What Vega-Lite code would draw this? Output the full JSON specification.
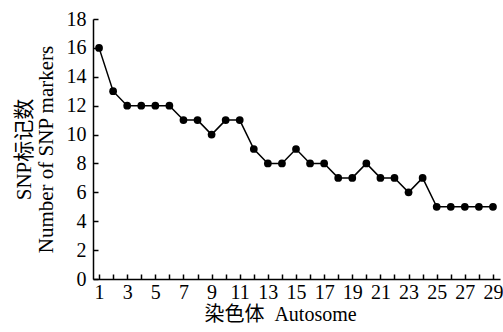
{
  "$schema": "https://vega.github.io/schema/vega-lite/v6.json",
  "autosize": "none",
  "width": 407,
  "height": 260,
  "padding": {"left": 93, "top": 19, "right": 3, "bottom": 53},
  "background": "white",
  "config": {
    "view": {"stroke": null},
    "font": "Liberation Serif",
    "axis": {
      "labelFont": "Liberation Serif",
      "labelFontSize": 20,
      "labelColor": "black",
      "titleFont": "Liberation Serif, Noto Sans CJK SC",
      "titleFontSize": 20,
      "titleFontWeight": "normal",
      "titleColor": "black",
      "domainColor": "black",
      "domainWidth": 1.5,
      "tickColor": "black",
      "tickWidth": 1.5,
      "grid": false
    }
  },
  "data": {
    "values": [
      {"chr": 1, "n": 16}, {"chr": 2, "n": 13}, {"chr": 3, "n": 12}, {"chr": 4, "n": 12},
      {"chr": 5, "n": 12}, {"chr": 6, "n": 12}, {"chr": 7, "n": 11}, {"chr": 8, "n": 11},
      {"chr": 9, "n": 10}, {"chr": 10, "n": 11}, {"chr": 11, "n": 11}, {"chr": 12, "n": 9},
      {"chr": 13, "n": 8}, {"chr": 14, "n": 8}, {"chr": 15, "n": 9}, {"chr": 16, "n": 8},
      {"chr": 17, "n": 8}, {"chr": 18, "n": 7}, {"chr": 19, "n": 7}, {"chr": 20, "n": 8},
      {"chr": 21, "n": 7}, {"chr": 22, "n": 7}, {"chr": 23, "n": 6}, {"chr": 24, "n": 7},
      {"chr": 25, "n": 5}, {"chr": 26, "n": 5}, {"chr": 27, "n": 5}, {"chr": 28, "n": 5},
      {"chr": 29, "n": 5}
    ]
  },
  "encoding": {
    "x": {
      "field": "chr", "type": "quantitative",
      "scale": {"domain": [0.57, 29.5], "nice": false, "zero": false},
      "axis": {
        "values": [1,2,3,4,5,6,7,8,9,10,11,12,13,14,15,16,17,18,19,20,21,22,23,24,25,26,27,28,29],
        "labelExpr": "datum.value % 2 == 1 ? datum.label : ''",
        "labelOverlap": false,
        "tickSize": -5,
        "labelPadding": 8,
        "title": "染色体\u00a0\u00a0Autosome",
        "titleFontSize": 20,
        "titlePadding": 2,
        "titleX": 187
      }
    },
    "y": {
      "field": "n", "type": "quantitative",
      "scale": {"domain": [0, 18], "nice": false},
      "axis": {
        "values": [0, 2, 4, 6, 8, 10, 12, 14, 16, 18],
        "tickSize": -5,
        "labelPadding": 12,
        "title": ["SNP标记数", "Number of SNP markers"],
        "titleFontSize": 21,
        "titleLineHeight": 22,
        "titlePadding": 10
      }
    }
  },
  "layer": [
    {"mark": {"type": "line", "color": "black", "strokeWidth": 1.5}},
    {"mark": {"type": "point", "filled": true, "color": "black", "opacity": 1, "size": 60}}
  ]
}
